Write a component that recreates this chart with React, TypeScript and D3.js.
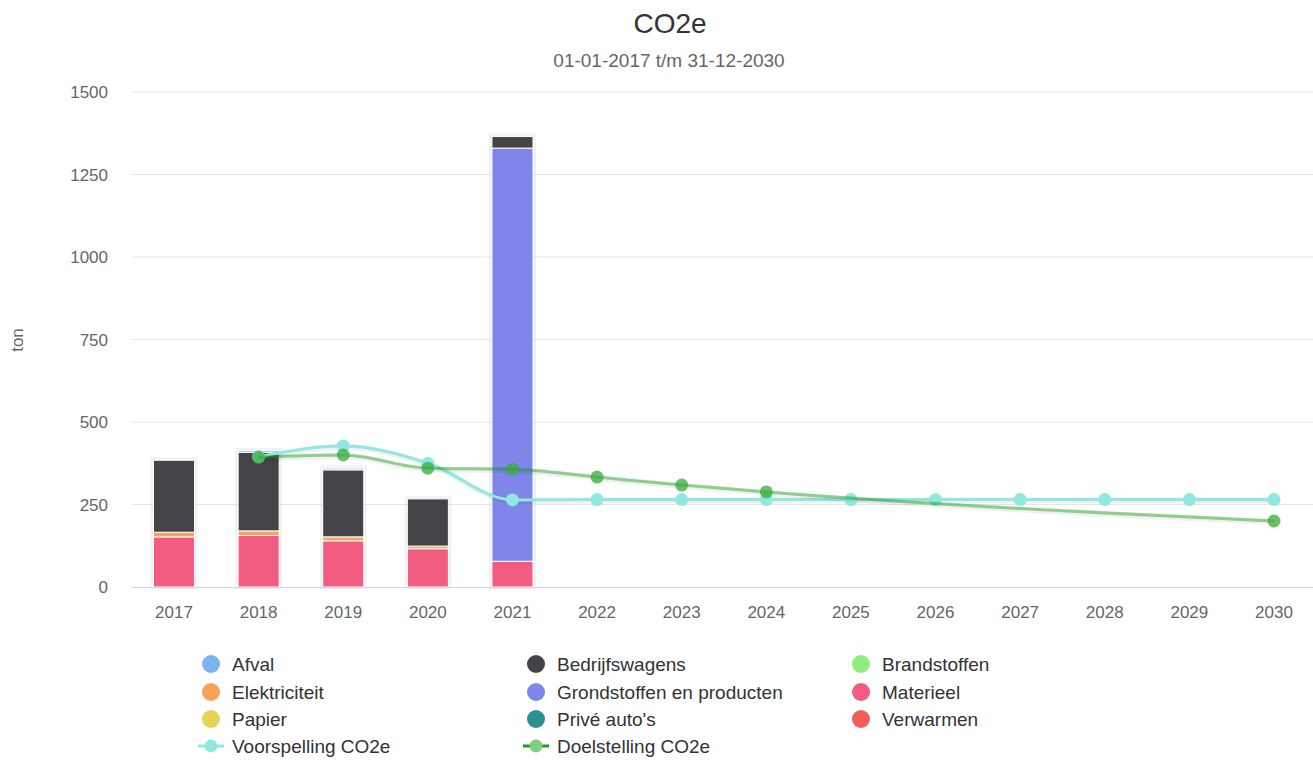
import React from "react";
import * as d3 from "d3";

const years = ["2017","2018","2019","2020","2021","2022","2023","2024","2025","2026","2027","2028","2029","2030"];
const barYears = ["2017","2018","2019","2020","2021"];

// stacked series, listed bottom -> top
const verwarmen = [0, 0, 0, 0, 0];
const priveAutos = [0, 0, 0, 0, 0];
const papier = [0, 0, 0, 0, 0];
const materieel = [152, 156, 140, 116, 78];
const grondstoffen = [0, 0, 0, 0, 1252];
const elektriciteit = [14, 14, 12, 8, 0];
const brandstoffen = [0, 0, 0, 0, 0];
const bedrijfswagens = [218, 238, 203, 143, 35];
const afval = [0, 5, 5, 0, 0];

const voorspelling: (number | null)[] = [null, 395, 427, 375, 264, 265, 265, 265, 265, 265, 265, 265, 265, 265];
const doelstelling: (number | null)[] = [null, 393, 400, 360, 357, 333, 309, 288, null, null, null, null, null, 200];

const yTicks = [0, 250, 500, 750, 1000, 1250, 1500];

const stackSeries = [
  { name: "Verwarmen", color: "#f45b5b", values: verwarmen },
  { name: "Privé auto's", color: "#2b908f", values: priveAutos },
  { name: "Papier", color: "#e4d354", values: papier },
  { name: "Materieel", color: "#f15c80", values: materieel },
  { name: "Grondstoffen en producten", color: "#8085e9", values: grondstoffen },
  { name: "Elektriciteit", color: "#f7a35c", values: elektriciteit },
  { name: "Brandstoffen", color: "#90ed7d", values: brandstoffen },
  { name: "Bedrijfswagens", color: "#434348", values: bedrijfswagens },
  { name: "Afval", color: "#7cb5ec", values: afval },
];

const legendItems = [
  { name: "Afval", color: "#7cb5ec", type: "dot" },
  { name: "Bedrijfswagens", color: "#434348", type: "dot" },
  { name: "Brandstoffen", color: "#90ed7d", type: "dot" },
  { name: "Elektriciteit", color: "#f7a35c", type: "dot" },
  { name: "Grondstoffen en producten", color: "#8085e9", type: "dot" },
  { name: "Materieel", color: "#f15c80", type: "dot" },
  { name: "Papier", color: "#e4d354", type: "dot" },
  { name: "Privé auto's", color: "#2b908f", type: "dot" },
  { name: "Verwarmen", color: "#f45b5b", type: "dot" },
  { name: "Voorspelling CO2e", color: "#91e8e1", type: "line", marker: "#91e8e1" },
  { name: "Doelstelling CO2e", color: "#1a9e1a", type: "line", marker: "#7ccf7c" },
];

const FONT = "'Liberation Sans', Arial, Helvetica, sans-serif";

export default function App() {
  const W = 1313, H = 760;
  const x = d3.scaleBand<string>().domain(years).range([131.7, 1316.3]).padding(0);
  const y = d3.scaleLinear().domain([0, 1500]).range([587, 92]);
  const cx = (yr: string) => (x(yr) as number) + x.bandwidth() / 2;
  const barW = x.bandwidth() * 0.485;

  const stackData = barYears.map((yr, i) => {
    const row: any = { year: yr };
    stackSeries.forEach((s) => (row[s.name] = s.values[i]));
    return row;
  });
  const stacked = d3.stack<any>().keys(stackSeries.map((s) => s.name))(stackData);
  const totals = barYears.map((_, i) => stackSeries.reduce((a, s) => a + s.values[i], 0));

  const lineGen = d3
    .line<{ yr: string; v: number }>()
    .x((d) => cx(d.yr))
    .y((d) => y(d.v))
    .curve(d3.curveMonotoneX);

  const vPts = years.map((yr, i) => ({ yr, v: voorspelling[i] })).filter((d) => d.v !== null) as { yr: string; v: number }[];
  const dPts = years.map((yr, i) => ({ yr, v: doelstelling[i] })).filter((d) => d.v !== null) as { yr: string; v: number }[];
  const vPath = lineGen(vPts) || "";
  const dPath = lineGen(dPts) || "";

  const legendCols = [211, 536, 861];
  const legendRows = [664, 692, 719, 746];

  return (
    <svg width={W} height={H} style={{ position: "absolute", left: 0, top: 0, fontFamily: FONT }}>
      <rect width={W} height={H} fill="#ffffff" />
      <text x={670} y={33} textAnchor="middle" fontSize={28} fill="#333333">CO2e</text>
      <text x={669} y={67} textAnchor="middle" fontSize={19} fill="#666666">01-01-2017 t/m 31-12-2030</text>

      {yTicks.map((t) => (
        <g key={t}>
          {t > 0 && <line x1={132} x2={W} y1={y(t)} y2={y(t)} stroke="#e6e6e6" strokeWidth={1} />}
          <text x={108} y={y(t) + 6} textAnchor="end" fontSize={17} fill="#666666">{t}</text>
        </g>
      ))}
      <text transform={`translate(23,340) rotate(-90)`} textAnchor="middle" fontSize={17} fill="#666666">ton</text>

      {/* bar shadows */}
      {barYears.map((yr, i) => (
        <rect key={"sh" + yr} x={cx(yr) - barW / 2 - 1} y={y(totals[i]) - 1} width={barW + 2} height={y(0) - y(totals[i]) + 1}
          fill="none" stroke="#000" strokeOpacity={0.05} strokeWidth={4} />
      ))}
      {stacked.map((layer, li) => (
        <g key={layer.key} fill={stackSeries[li].color}>
          {layer.map((d, i) => {
            const h = y(d[0]) - y(d[1]);
            if (h <= 0) return null;
            return (
              <rect key={i} x={cx(barYears[i]) - barW / 2} y={y(d[1])} width={barW} height={h}
                stroke="#ffffff" strokeWidth={1} />
            );
          })}
        </g>
      ))}

      <line x1={132} x2={W} y1={y(0) + 0.5} y2={y(0) + 0.5} stroke="#ccd6eb" strokeWidth={1} />
      {years.map((yr) => (
        <text key={yr} x={cx(yr)} y={618} textAnchor="middle" fontSize={17} fill="#666666">{yr}</text>
      ))}

      {/* Voorspelling */}
      <path d={vPath} fill="none" stroke="#000" strokeOpacity={0.06} strokeWidth={6} transform="translate(1,1)" />
      <path d={vPath} fill="none" stroke="#91e8e1" strokeWidth={3} />
      {vPts.map((p) => (
        <circle key={"v" + p.yr} cx={cx(p.yr)} cy={y(p.v)} r={6.5} fill="#91e8e1" />
      ))}

      {/* Doelstelling */}
      <path d={dPath} fill="none" stroke="#000" strokeOpacity={0.06} strokeWidth={6} transform="translate(1,1)" />
      <path d={dPath} fill="none" stroke="#1a9e1a" strokeOpacity={0.45} strokeWidth={3} />
      {dPts.map((p) => (
        <circle key={"d" + p.yr} cx={cx(p.yr)} cy={y(p.v)} r={6.5} fill="#3aac3a" fillOpacity={0.75} />
      ))}

      {/* legend */}
      {legendItems.map((it, i) => {
        const lx = legendCols[i % 3];
        const ly = legendRows[Math.floor(i / 3)];
        return (
          <g key={it.name}>
            {it.type === "dot" ? (
              <circle cx={lx} cy={ly} r={9} fill={it.color} />
            ) : (
              <g>
                <line x1={lx - 13} x2={lx + 13} y1={ly} y2={ly} stroke={it.color} strokeWidth={3} />
                <circle cx={lx} cy={ly} r={6.5} fill={it.marker} />
              </g>
            )}
            <text x={lx + 21} y={ly + 6.5} fontSize={19} fill="#333333">{it.name}</text>
          </g>
        );
      })}
    </svg>
  );
}
